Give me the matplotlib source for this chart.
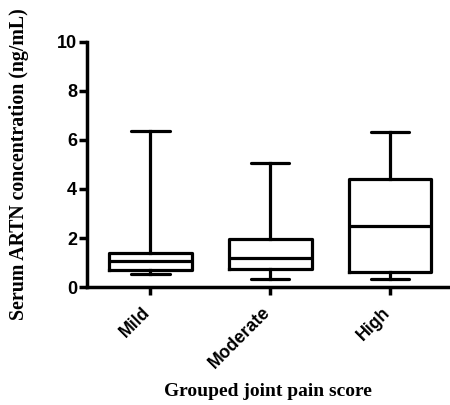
import matplotlib
matplotlib.use('Agg')
import matplotlib.pyplot as plt
import matplotlib.transforms as mtransforms

# Данные
groups = ['Mild', 'Moderate', 'High']
whisker_low = [0.52, 0.35, 0.33]
q1 = [0.68, 0.75, 0.60]
median = [1.08, 1.18, 2.50]
q3 = [1.40, 1.97, 4.41]
whisker_high = [6.38, 5.05, 6.31]

stats = []
for i, g in enumerate(groups):
    stats.append({'label': g, 'whislo': whisker_low[i], 'q1': q1[i], 'med': median[i],
                  'q3': q3[i], 'whishi': whisker_high[i], 'fliers': []})

fig = plt.figure(figsize=(4.5, 4.05), dpi=100)
ax = fig.add_axes([0.193, 0.291, 0.807, 0.606])

lw = 2.3
ax.bxp(stats, positions=[1, 2, 3], widths=0.69, showfliers=False,
       boxprops=dict(color='black', linewidth=lw),
       medianprops=dict(color='black', linewidth=lw),
       whiskerprops=dict(color='black', linewidth=lw),
       capprops=dict(color='black', linewidth=lw, solid_capstyle='round'),
       capwidths=0.32)

ax.set_xlim(0.47, 3.5)
ax.set_ylim(0, 10)
ax.set_yticks([0, 2, 4, 6, 8, 10])
ax.spines['top'].set_visible(False)
ax.spines['right'].set_visible(False)
ax.spines['left'].set_linewidth(2.5)
ax.spines['bottom'].set_linewidth(2.5)
ax.tick_params(width=2.5, length=6, labelsize=13, pad=1)
for lab in ax.get_yticklabels():
    lab.set_fontweight('bold')
    lab.set_family('Liberation Sans')
ax.set_xticks([1, 2, 3])
ax.set_xticklabels(groups, rotation=45, ha='right', rotation_mode='anchor',
                   fontweight='bold', family='Liberation Sans', fontsize=12.8)
shift = mtransforms.ScaledTranslation(-6 / 72, -5 / 72, fig.dpi_scale_trans)
for lab in ax.get_xticklabels():
    lab.set_transform(lab.get_transform() + shift)

ax.set_ylabel('Serum ARTN concentration (ng/mL)', family='Liberation Serif',
              fontweight='bold', fontsize=14.3, labelpad=20)
ax.set_xlabel('Grouped joint pain score', family='Liberation Serif',
              fontweight='bold', fontsize=14, labelpad=8)

plt.savefig('out.png', dpi=100)
